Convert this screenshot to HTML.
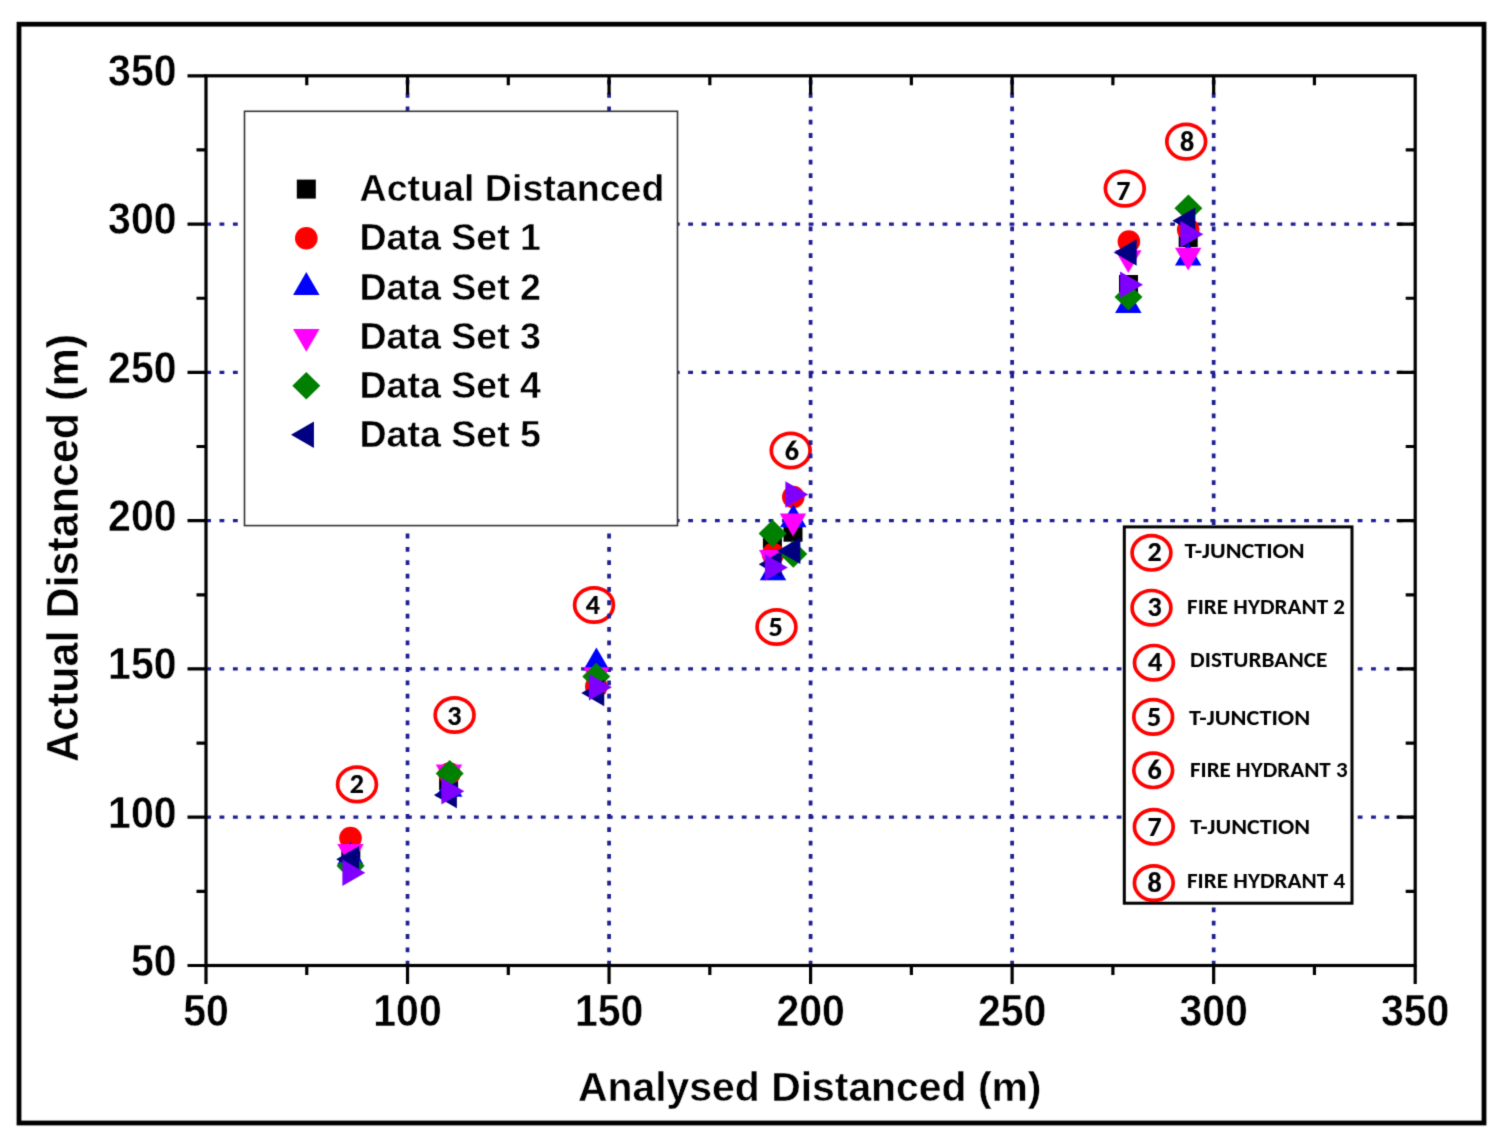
<!DOCTYPE html><html><head><meta charset="utf-8"><title>Actual vs Analysed Distanced</title><style>html,body{margin:0;padding:0;background:#fff;}svg{display:block;}text{font-family:"Liberation Sans",Arial,sans-serif;font-weight:bold;fill:#000;}.th{stroke:#fff;stroke-width:0.4px;}.dg{stroke:#000;stroke-width:0.2px;}.cb{font-family:Carlito,Calibri,"Liberation Sans",sans-serif;font-weight:bold;font-size-adjust:0.485;}</style></head><body>
<svg width="1500" height="1145" viewBox="0 0 1500 1145">
<defs><filter id="bl" x="0" y="0" width="1500" height="1145" filterUnits="userSpaceOnUse" color-interpolation-filters="sRGB"><feConvolveMatrix order="3" kernelMatrix="0.01917 0.10012 0.01917 0.10012 0.52283 0.10012 0.01917 0.10012 0.01917" divisor="1" edgeMode="none"/></filter></defs>
<rect width="1500" height="1145" fill="#fff"/>
<g filter="url(#bl)">
<rect x="19" y="24.2" width="1465" height="1098.8" fill="none" stroke="#000" stroke-width="4.8"/>
<ellipse cx="357" cy="784.4" rx="19.4" ry="17.2" fill="none" stroke="#f00" stroke-width="3.7"/>
<text class="cb dg" x="356.8" y="793.2" font-size="28" text-anchor="middle">2</text>
<ellipse cx="454.6" cy="715" rx="19.4" ry="17.2" fill="none" stroke="#f00" stroke-width="3.7"/>
<text class="cb dg" x="454.3" y="725.3" font-size="28" text-anchor="middle">3</text>
<ellipse cx="594" cy="605" rx="19.4" ry="17.2" fill="none" stroke="#f00" stroke-width="3.7"/>
<text class="cb dg" x="592.9" y="613.7" font-size="28" text-anchor="middle">4</text>
<ellipse cx="776.5" cy="627" rx="19.4" ry="17.2" fill="none" stroke="#f00" stroke-width="3.7"/>
<text class="cb dg" x="775.7" y="636.4" font-size="28" text-anchor="middle">5</text>
<ellipse cx="790.7" cy="450.5" rx="19.4" ry="17.2" fill="none" stroke="#f00" stroke-width="3.7"/>
<text class="cb dg" x="791.8" y="459.5" font-size="28" text-anchor="middle">6</text>
<ellipse cx="1124.8" cy="188.6" rx="19.4" ry="17.2" fill="none" stroke="#f00" stroke-width="3.7"/>
<text class="cb dg" x="1123.3" y="200" font-size="28" text-anchor="middle">7</text>
<ellipse cx="1186.2" cy="141.6" rx="19.4" ry="17.2" fill="none" stroke="#f00" stroke-width="3.7"/>
<text class="cb dg" x="1187" y="150.5" font-size="28" text-anchor="middle">8</text>
<line x1="407.53" y1="965.5" x2="407.53" y2="75.8" stroke="#1e1e92" stroke-width="3.7" stroke-dasharray="4.8 8.55" stroke-dashoffset="0.1"/>
<line x1="609.07" y1="965.5" x2="609.07" y2="75.8" stroke="#1e1e92" stroke-width="3.7" stroke-dasharray="4.8 8.55" stroke-dashoffset="0.1"/>
<line x1="810.6" y1="965.5" x2="810.6" y2="75.8" stroke="#1e1e92" stroke-width="3.7" stroke-dasharray="4.8 8.55" stroke-dashoffset="0.1"/>
<line x1="1012.13" y1="965.5" x2="1012.13" y2="75.8" stroke="#1e1e92" stroke-width="3.7" stroke-dasharray="4.8 8.55" stroke-dashoffset="0.1"/>
<line x1="1213.67" y1="965.5" x2="1213.67" y2="75.8" stroke="#1e1e92" stroke-width="3.7" stroke-dasharray="4.8 8.55" stroke-dashoffset="0.1"/>
<line x1="206.25" y1="817.22" x2="1415.2" y2="817.22" stroke="#1e1e92" stroke-width="3.3" stroke-dasharray="4.8 8.59" stroke-dashoffset="0.1"/>
<line x1="206.25" y1="668.93" x2="1415.2" y2="668.93" stroke="#1e1e92" stroke-width="3.3" stroke-dasharray="4.8 8.59" stroke-dashoffset="0.1"/>
<line x1="206.25" y1="520.65" x2="1415.2" y2="520.65" stroke="#1e1e92" stroke-width="3.3" stroke-dasharray="4.8 8.59" stroke-dashoffset="0.1"/>
<line x1="206.25" y1="372.37" x2="1415.2" y2="372.37" stroke="#1e1e92" stroke-width="3.3" stroke-dasharray="4.8 8.59" stroke-dashoffset="0.1"/>
<line x1="206.25" y1="224.08" x2="1415.2" y2="224.08" stroke="#1e1e92" stroke-width="3.3" stroke-dasharray="4.8 8.59" stroke-dashoffset="0.1"/>
<rect x="341.3" y="843.5" width="19" height="19" fill="#000"/>
<rect x="439.1" y="771" width="19" height="19" fill="#000"/>
<rect x="586.8" y="674.5" width="19" height="19" fill="#000"/>
<rect x="762.9" y="529" width="19" height="19" fill="#000"/>
<rect x="783.5" y="522.7" width="19" height="19" fill="#000"/>
<rect x="1119" y="275" width="19" height="19" fill="#000"/>
<rect x="1178.7" y="228.1" width="19" height="19" fill="#000"/>
<circle cx="350.5" cy="838" r="11.3" fill="#f00"/>
<circle cx="449.5" cy="773.5" r="11.3" fill="#f00"/>
<circle cx="596.3" cy="686.5" r="11.3" fill="#f00"/>
<circle cx="773" cy="554" r="11.3" fill="#f00"/>
<circle cx="793.3" cy="497" r="11.3" fill="#f00"/>
<circle cx="1128.9" cy="241.5" r="11.3" fill="#f00"/>
<circle cx="1188.2" cy="229.4" r="11.3" fill="#f00"/>
<polygon points="350.4,841.7 363.65,864.65 337.15,864.65" fill="#00f"/>
<polygon points="449.2,773.9 462.45,796.85 435.95,796.85" fill="#00f"/>
<polygon points="596.4,647.4 609.65,670.35 583.15,670.35" fill="#00f"/>
<polygon points="773,557.3 786.25,580.25 759.75,580.25" fill="#00f"/>
<polygon points="793.3,504.2 806.55,527.15 780.05,527.15" fill="#00f"/>
<polygon points="1128.3,290 1141.55,312.95 1115.05,312.95" fill="#00f"/>
<polygon points="1188.2,242.6 1201.45,265.55 1174.95,265.55" fill="#00f"/>
<polygon points="350.5,867 363.75,844.05 337.25,844.05" fill="#f0f"/>
<polygon points="449,787.4 462.25,764.45 435.75,764.45" fill="#f0f"/>
<polygon points="596.5,690.1 609.75,667.15 583.25,667.15" fill="#f0f"/>
<polygon points="772.2,573 785.45,550.05 758.95,550.05" fill="#f0f"/>
<polygon points="793,536.4 806.25,513.45 779.75,513.45" fill="#f0f"/>
<polygon points="1128.3,273.1 1141.55,250.15 1115.05,250.15" fill="#f0f"/>
<polygon points="1188.2,270.6 1201.45,247.65 1174.95,247.65" fill="#f0f"/>
<polygon points="350.6,852.3 364.6,866 350.6,879.7 336.6,866" fill="#008000"/>
<polygon points="449.7,759.9 463.7,773.6 449.7,787.3 435.7,773.6" fill="#008000"/>
<polygon points="596.3,662.8 610.3,676.5 596.3,690.2 582.3,676.5" fill="#008000"/>
<polygon points="772.6,519.8 786.6,533.5 772.6,547.2 758.6,533.5" fill="#008000"/>
<polygon points="793.3,540.3 807.3,554 793.3,567.7 779.3,554" fill="#008000"/>
<polygon points="1128.5,283.2 1142.5,296.9 1128.5,310.6 1114.5,296.9" fill="#008000"/>
<polygon points="1188.4,194.5 1202.4,208.2 1188.4,221.9 1174.4,208.2" fill="#008000"/>
<polygon points="336.2,859.3 359.15,846.05 359.15,872.55" fill="#000080"/>
<polygon points="433.9,795 456.85,781.75 456.85,808.25" fill="#000080"/>
<polygon points="581.3,693 604.25,679.75 604.25,706.25" fill="#000080"/>
<polygon points="758.7,564.3 781.65,551.05 781.65,577.55" fill="#000080"/>
<polygon points="777.4,550.7 800.35,537.45 800.35,563.95" fill="#000080"/>
<polygon points="1113.7,252.4 1136.65,239.15 1136.65,265.65" fill="#000080"/>
<polygon points="1172.4,220.7 1195.35,207.45 1195.35,233.95" fill="#000080"/>
<polygon points="365.3,872.7 342.35,859.45 342.35,885.95" fill="#8000ff"/>
<polygon points="464.3,791.3 441.35,778.05 441.35,804.55" fill="#8000ff"/>
<polygon points="611.9,687.3 588.95,674.05 588.95,700.55" fill="#8000ff"/>
<polygon points="787.8,567.6 764.85,554.35 764.85,580.85" fill="#8000ff"/>
<polygon points="808.3,494.5 785.35,481.25 785.35,507.75" fill="#8000ff"/>
<polygon points="1143,284.7 1120.05,271.45 1120.05,297.95" fill="#8000ff"/>
<polygon points="1203.3,234.2 1180.35,220.95 1180.35,247.45" fill="#8000ff"/>
<rect x="206" y="75.8" width="1209.2" height="889.7" fill="none" stroke="#000" stroke-width="3.2"/>
<path d="M206 965.5v18.5M206 965.5h-18.5M306.77 965.5v9.5M306.77 75.8v9.5M206 891.36h-9.5M1415.2 891.36h-9.5M407.53 965.5v18.5M407.53 75.8v18.5M206 817.22h-18.5M1415.2 817.22h-18.5M508.3 965.5v9.5M508.3 75.8v9.5M206 743.08h-9.5M1415.2 743.08h-9.5M609.07 965.5v18.5M609.07 75.8v18.5M206 668.93h-18.5M1415.2 668.93h-18.5M709.83 965.5v9.5M709.83 75.8v9.5M206 594.79h-9.5M1415.2 594.79h-9.5M810.6 965.5v18.5M810.6 75.8v18.5M206 520.65h-18.5M1415.2 520.65h-18.5M911.37 965.5v9.5M911.37 75.8v9.5M206 446.51h-9.5M1415.2 446.51h-9.5M1012.13 965.5v18.5M1012.13 75.8v18.5M206 372.37h-18.5M1415.2 372.37h-18.5M1112.9 965.5v9.5M1112.9 75.8v9.5M206 298.23h-9.5M1415.2 298.23h-9.5M1213.67 965.5v18.5M1213.67 75.8v18.5M206 224.08h-18.5M1415.2 224.08h-18.5M1314.43 965.5v9.5M1314.43 75.8v9.5M206 149.94h-9.5M1415.2 149.94h-9.5M1415.2 965.5v18.5M206 75.8h-18.5" stroke="#000" stroke-width="3.2" fill="none"/>
<text class="th" x="206" y="1026" font-size="45" text-anchor="middle" textLength="45.59" lengthAdjust="spacingAndGlyphs">50</text>
<text class="th" x="176.5" y="975.8" font-size="45" text-anchor="end" textLength="45.59" lengthAdjust="spacingAndGlyphs">50</text>
<text class="th" x="407.53" y="1026" font-size="45" text-anchor="middle" textLength="68.39" lengthAdjust="spacingAndGlyphs">100</text>
<text class="th" x="176.5" y="827.52" font-size="45" text-anchor="end" textLength="68.39" lengthAdjust="spacingAndGlyphs">100</text>
<text class="th" x="609.07" y="1026" font-size="45" text-anchor="middle" textLength="68.39" lengthAdjust="spacingAndGlyphs">150</text>
<text class="th" x="176.5" y="679.23" font-size="45" text-anchor="end" textLength="68.39" lengthAdjust="spacingAndGlyphs">150</text>
<text class="th" x="810.6" y="1026" font-size="45" text-anchor="middle" textLength="68.39" lengthAdjust="spacingAndGlyphs">200</text>
<text class="th" x="176.5" y="530.95" font-size="45" text-anchor="end" textLength="68.39" lengthAdjust="spacingAndGlyphs">200</text>
<text class="th" x="1012.13" y="1026" font-size="45" text-anchor="middle" textLength="68.39" lengthAdjust="spacingAndGlyphs">250</text>
<text class="th" x="176.5" y="382.67" font-size="45" text-anchor="end" textLength="68.39" lengthAdjust="spacingAndGlyphs">250</text>
<text class="th" x="1213.67" y="1026" font-size="45" text-anchor="middle" textLength="68.39" lengthAdjust="spacingAndGlyphs">300</text>
<text class="th" x="176.5" y="234.38" font-size="45" text-anchor="end" textLength="68.39" lengthAdjust="spacingAndGlyphs">300</text>
<text class="th" x="1415.2" y="1026" font-size="45" text-anchor="middle" textLength="68.39" lengthAdjust="spacingAndGlyphs">350</text>
<text class="th" x="176.5" y="86.1" font-size="45" text-anchor="end" textLength="68.39" lengthAdjust="spacingAndGlyphs">350</text>
<text class="th" x="578" y="1101" font-size="41.3" textLength="463.5" lengthAdjust="spacingAndGlyphs">Analysed Distanced (m)</text>
<text class="th" transform="translate(77.8 762) rotate(-90)" x="0" y="0" font-size="43.5" textLength="428" lengthAdjust="spacingAndGlyphs">Actual Distanced (m)</text>
<rect x="244.5" y="111.3" width="433" height="414.3" fill="#fff" stroke="#333" stroke-width="1.6"/>
<rect x="296.8" y="179.6" width="19" height="19" fill="#000"/>
<text class="th" x="359.5" y="201.2" font-size="37.6" textLength="305" lengthAdjust="spacingAndGlyphs">Actual Distanced</text>
<circle cx="306.3" cy="238.25" r="11.3" fill="#f00"/>
<text class="th" x="359.5" y="250.35" font-size="37.6" textLength="181.5" lengthAdjust="spacingAndGlyphs">Data Set 1</text>
<polygon points="306.3,272.1 319.55,295.05 293.05,295.05" fill="#00f"/>
<text class="th" x="359.5" y="299.5" font-size="37.6" textLength="181.5" lengthAdjust="spacingAndGlyphs">Data Set 2</text>
<polygon points="306.3,351.85 319.55,328.9 293.05,328.9" fill="#f0f"/>
<text class="th" x="359.5" y="348.65" font-size="37.6" textLength="181.5" lengthAdjust="spacingAndGlyphs">Data Set 3</text>
<polygon points="306.3,372 320.3,385.7 306.3,399.4 292.3,385.7" fill="#008000"/>
<text class="th" x="359.5" y="397.8" font-size="37.6" textLength="181.5" lengthAdjust="spacingAndGlyphs">Data Set 4</text>
<polygon points="291,434.85 313.95,421.6 313.95,448.1" fill="#000080"/>
<text class="th" x="359.5" y="446.95" font-size="37.6" textLength="181.5" lengthAdjust="spacingAndGlyphs">Data Set 5</text>
<rect x="1124.3" y="526.9" width="227.7" height="376.3" fill="#fff" stroke="#000" stroke-width="3"/>
<ellipse cx="1151.5" cy="552.8" rx="19.4" ry="17.2" fill="none" stroke="#f00" stroke-width="3.7"/>
<text class="cb dg" x="1154.6" y="561" font-size="28" text-anchor="middle">2</text>
<text class="cb" x="1184.4" y="558" font-size="23" textLength="120.3" lengthAdjust="spacingAndGlyphs">T-JUNCTION</text>
<ellipse cx="1151.5" cy="607.7" rx="19.4" ry="17.2" fill="none" stroke="#f00" stroke-width="3.7"/>
<text class="cb dg" x="1154.5" y="616" font-size="28" text-anchor="middle">3</text>
<text class="cb" x="1187.1" y="614" font-size="23" textLength="157.9" lengthAdjust="spacingAndGlyphs">FIRE HYDRANT 2</text>
<ellipse cx="1153.9" cy="662.7" rx="19.4" ry="17.2" fill="none" stroke="#f00" stroke-width="3.7"/>
<text class="cb dg" x="1155" y="671" font-size="28" text-anchor="middle">4</text>
<text class="cb" x="1190.1" y="666.8" font-size="23" textLength="137.3" lengthAdjust="spacingAndGlyphs">DISTURBANCE</text>
<ellipse cx="1153.2" cy="716.9" rx="19.4" ry="17.2" fill="none" stroke="#f00" stroke-width="3.7"/>
<text class="cb dg" x="1154" y="725.5" font-size="28" text-anchor="middle">5</text>
<text class="cb" x="1188.9" y="724.6" font-size="23" textLength="121.3" lengthAdjust="spacingAndGlyphs">T-JUNCTION</text>
<ellipse cx="1153.2" cy="770.3" rx="19.4" ry="17.2" fill="none" stroke="#f00" stroke-width="3.7"/>
<text class="cb dg" x="1154.5" y="779" font-size="28" text-anchor="middle">6</text>
<text class="cb" x="1189.9" y="776.9" font-size="23" textLength="157.8" lengthAdjust="spacingAndGlyphs">FIRE HYDRANT 3</text>
<ellipse cx="1153.8" cy="826.8" rx="19.4" ry="17.2" fill="none" stroke="#f00" stroke-width="3.7"/>
<text class="cb dg" x="1154.5" y="835.5" font-size="28" text-anchor="middle">7</text>
<text class="cb" x="1189.9" y="833.7" font-size="23" textLength="120.3" lengthAdjust="spacingAndGlyphs">T-JUNCTION</text>
<ellipse cx="1153.8" cy="883.1" rx="19.4" ry="17.2" fill="none" stroke="#f00" stroke-width="3.7"/>
<text class="cb dg" x="1154.5" y="891.8" font-size="28" text-anchor="middle">8</text>
<text class="cb" x="1187" y="887.9" font-size="23" textLength="158.2" lengthAdjust="spacingAndGlyphs">FIRE HYDRANT 4</text>
</g></svg></body></html>
